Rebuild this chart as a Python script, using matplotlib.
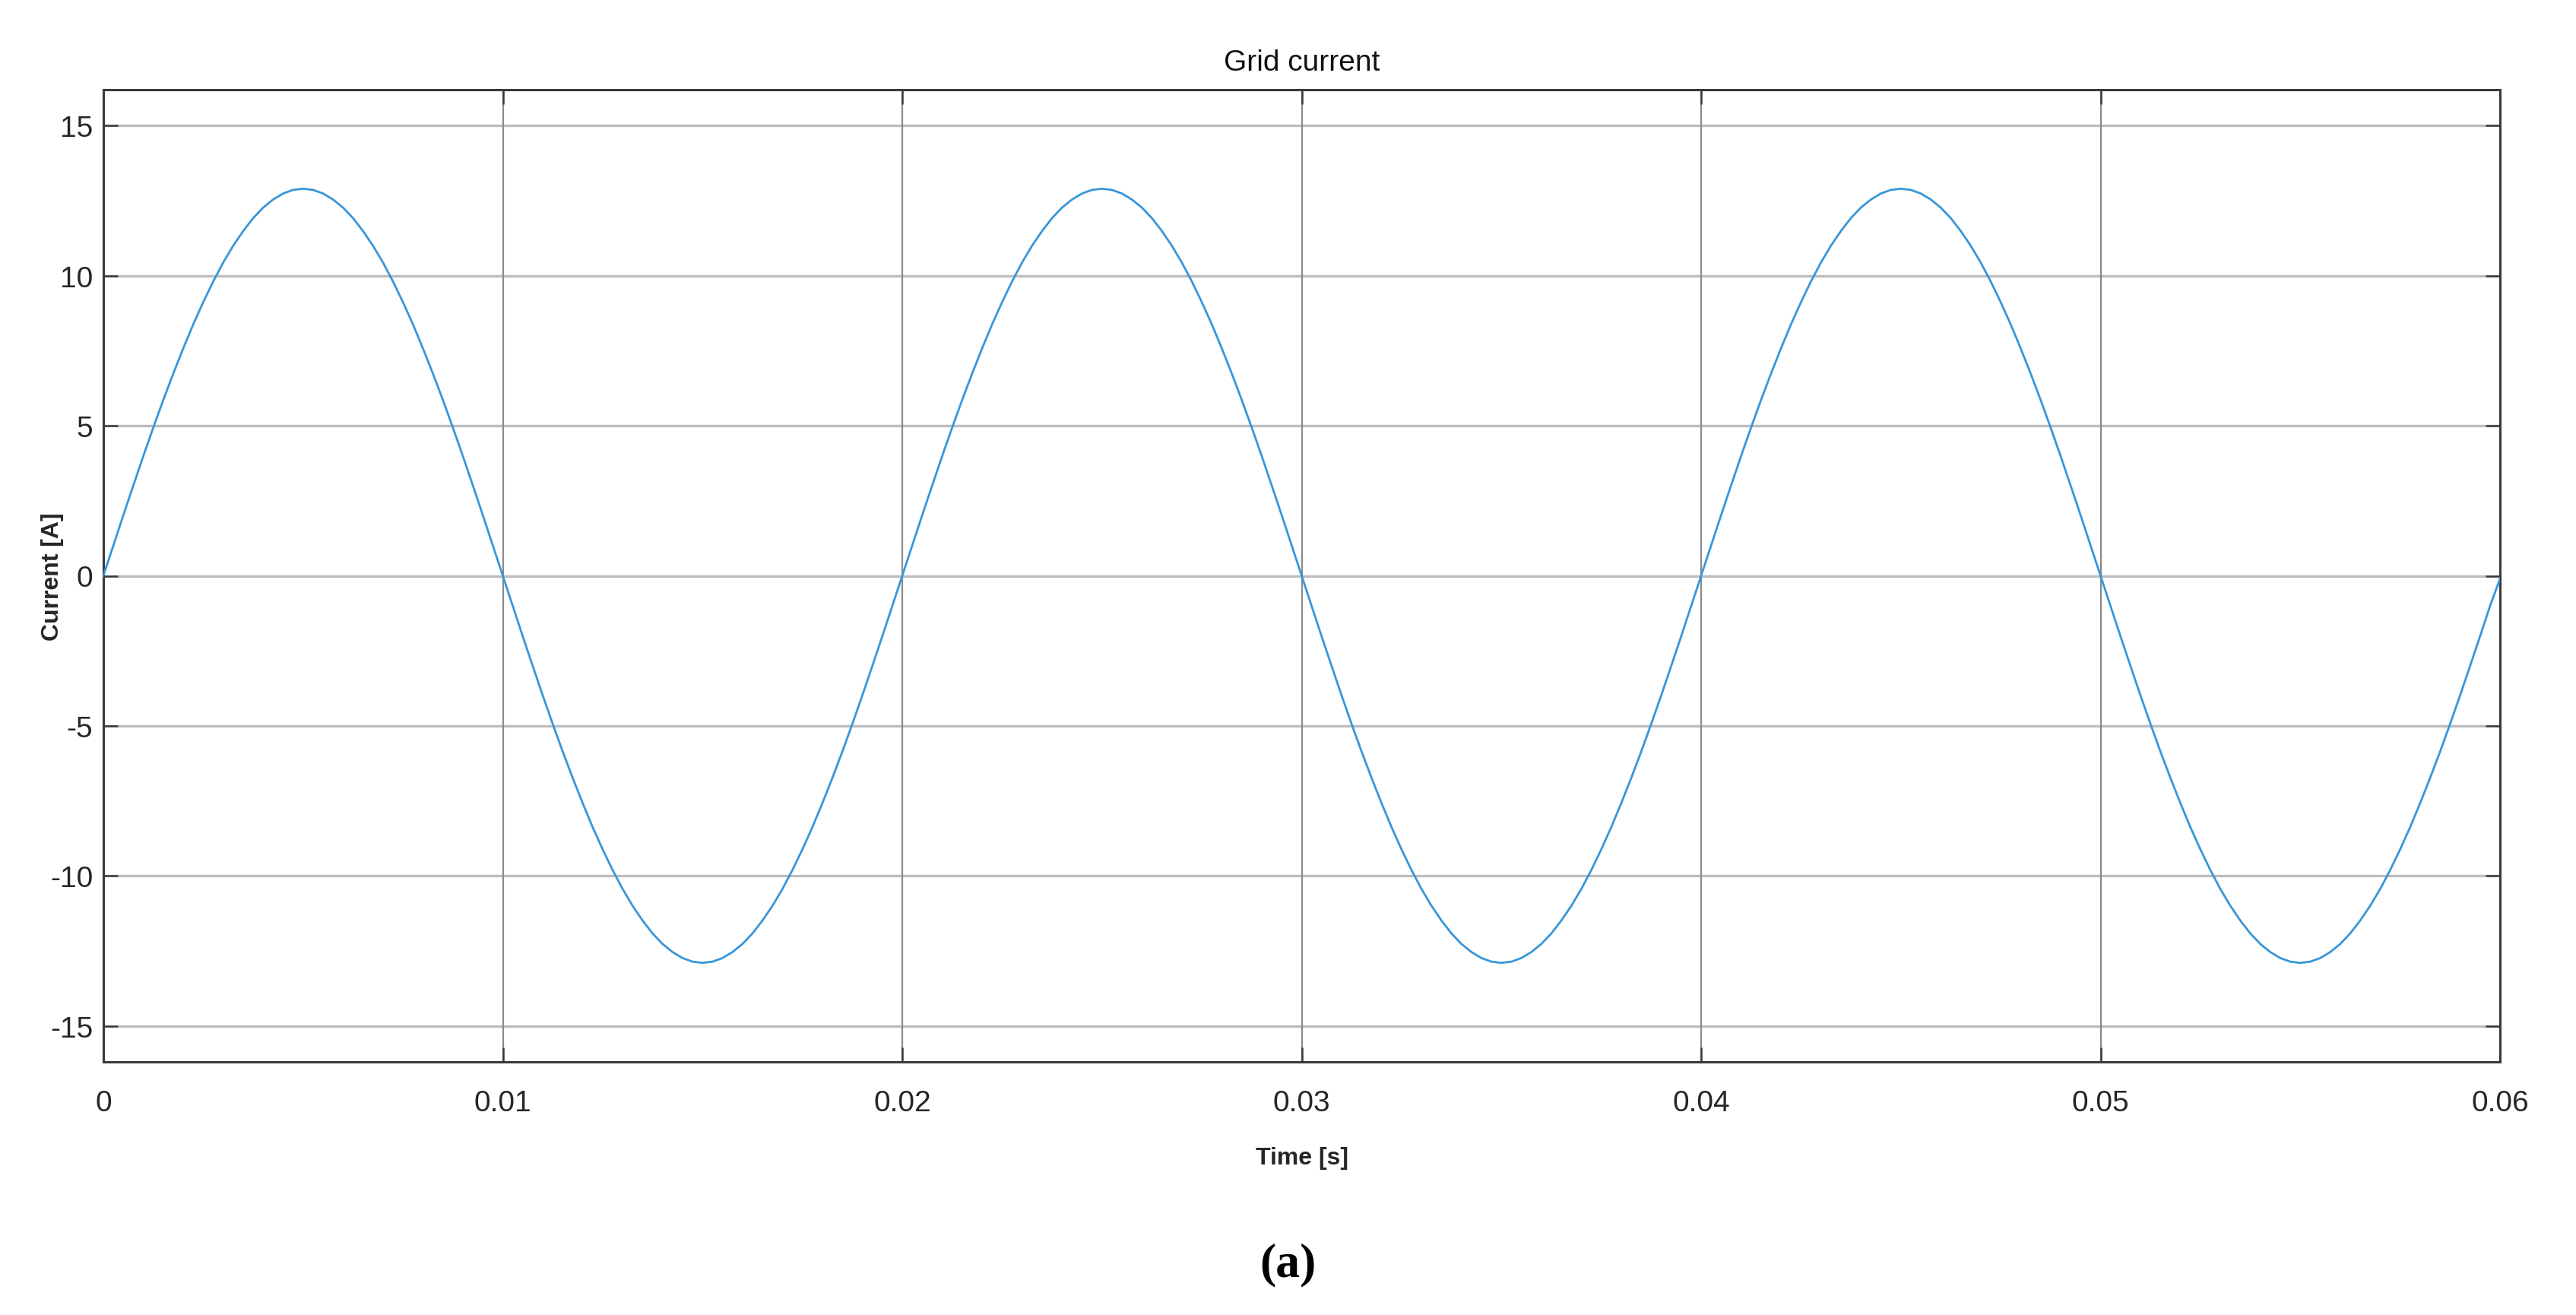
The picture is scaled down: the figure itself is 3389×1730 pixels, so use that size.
import numpy as np
import matplotlib
matplotlib.use("Agg")
import matplotlib.pyplot as plt

# Grid current samples (every 0.25 ms from 0 to 0.06 s)
current = [
    # 0 - 10 ms
    0.00, 1.01, 2.02, 3.01, 3.99, 4.94, 5.86, 6.74, 7.58, 8.38,
    9.12, 9.81, 10.44, 11.00, 11.49, 11.92, 12.27, 12.54, 12.74, 12.86,
    12.90, 12.86, 12.74, 12.54, 12.27, 11.92, 11.49, 11.00, 10.44, 9.81,
    9.12, 8.38, 7.58, 6.74, 5.86, 4.94, 3.99, 3.01, 2.02, 1.01,
    # 10 - 20 ms
    0.00, -1.01, -2.02, -3.01, -3.99, -4.94, -5.86, -6.74, -7.58, -8.38,
    -9.12, -9.81, -10.44, -11.00, -11.49, -11.92, -12.27, -12.54, -12.74, -12.86,
    -12.90, -12.86, -12.74, -12.54, -12.27, -11.92, -11.49, -11.00, -10.44, -9.81,
    -9.12, -8.38, -7.58, -6.74, -5.86, -4.94, -3.99, -3.01, -2.02, -1.01,
    # 20 - 30 ms
    0.00, 1.01, 2.02, 3.01, 3.99, 4.94, 5.86, 6.74, 7.58, 8.38,
    9.12, 9.81, 10.44, 11.00, 11.49, 11.92, 12.27, 12.54, 12.74, 12.86,
    12.90, 12.86, 12.74, 12.54, 12.27, 11.92, 11.49, 11.00, 10.44, 9.81,
    9.12, 8.38, 7.58, 6.74, 5.86, 4.94, 3.99, 3.01, 2.02, 1.01,
    # 30 - 40 ms
    0.00, -1.01, -2.02, -3.01, -3.99, -4.94, -5.86, -6.74, -7.58, -8.38,
    -9.12, -9.81, -10.44, -11.00, -11.49, -11.92, -12.27, -12.54, -12.74, -12.86,
    -12.90, -12.86, -12.74, -12.54, -12.27, -11.92, -11.49, -11.00, -10.44, -9.81,
    -9.12, -8.38, -7.58, -6.74, -5.86, -4.94, -3.99, -3.01, -2.02, -1.01,
    # 40 - 50 ms
    0.00, 1.01, 2.02, 3.01, 3.99, 4.94, 5.86, 6.74, 7.58, 8.38,
    9.12, 9.81, 10.44, 11.00, 11.49, 11.92, 12.27, 12.54, 12.74, 12.86,
    12.90, 12.86, 12.74, 12.54, 12.27, 11.92, 11.49, 11.00, 10.44, 9.81,
    9.12, 8.38, 7.58, 6.74, 5.86, 4.94, 3.99, 3.01, 2.02, 1.01,
    # 50 - 60 ms
    0.00, -1.01, -2.02, -3.01, -3.99, -4.94, -5.86, -6.74, -7.58, -8.38,
    -9.12, -9.81, -10.44, -11.00, -11.49, -11.92, -12.27, -12.54, -12.74, -12.86,
    -12.90, -12.86, -12.74, -12.54, -12.27, -11.92, -11.49, -11.00, -10.44, -9.81,
    -9.12, -8.38, -7.58, -6.74, -5.86, -4.94, -3.99, -3.01, -2.02, -1.01,
    -0.10,
]
t_start, t_end = 0.0, 0.06
time = np.linspace(t_start, t_end, len(current))

x_ticks = [0, 0.01, 0.02, 0.03, 0.04, 0.05, 0.06]
x_tick_labels = ["0", "0.01", "0.02", "0.03", "0.04", "0.05", "0.06"]
y_ticks = [-15, -10, -5, 0, 5, 10, 15]
y_tick_labels = ["-15", "-10", "-5", "0", "5", "10", "15"]

plt.rcParams['font.family'] = ['Liberation Sans', 'DejaVu Sans']

W, H, DPI = 3389, 1731, 200
fig = plt.figure(figsize=(W / DPI, H / DPI), dpi=DPI)
ax = fig.add_axes([136 / W, 1 - 1398 / H, (3289 - 136) / W, (1398 - 119) / H])

ax.plot(time, current, color='#3796da', lw=1.0, zorder=3)

ax.set_xlim(0, 0.06)
ax.set_ylim(-16.2, 16.2)
ax.set_xticks(x_ticks)
ax.set_xticklabels(x_tick_labels)
ax.set_yticks(y_ticks)
ax.set_yticklabels(y_tick_labels)

for v in y_ticks:
    ax.axhline(v, color='#bdbdbd', lw=1.2, zorder=1)
for v in x_ticks:
    ax.axvline(v, color='#8a8a8a', lw=0.8, zorder=1)

spine_col = '#3a3a3a'
for s in ax.spines.values():
    s.set_color(spine_col)
    s.set_linewidth(1.1)

ax.tick_params(axis='both', which='both', direction='in', length=7, width=0.9,
               color=spine_col, top=True, right=True, labelsize=14,
               labelcolor='#262626')
ax.tick_params(axis='x', pad=13)
ax.tick_params(axis='y', pad=5)

ax.set_title("Grid current", fontsize=14, color='#111111', pad=9.5)
ax.set_xlabel("Time [s]", fontsize=11.5, fontweight='bold', color='#262626', labelpad=14)
ax.set_ylabel("Current [A]", fontsize=11.5, fontweight='bold', color='#262626')
ax.yaxis.set_label_coords(-0.0165, 0.5)

fig.text(0.5, 1 - 1664 / H, "(a)", ha='center', va='center', fontsize=23,
         fontweight='bold', family=['Liberation Serif', 'DejaVu Serif'], color='black')

fig.savefig("out.png", dpi=DPI, facecolor='white')
